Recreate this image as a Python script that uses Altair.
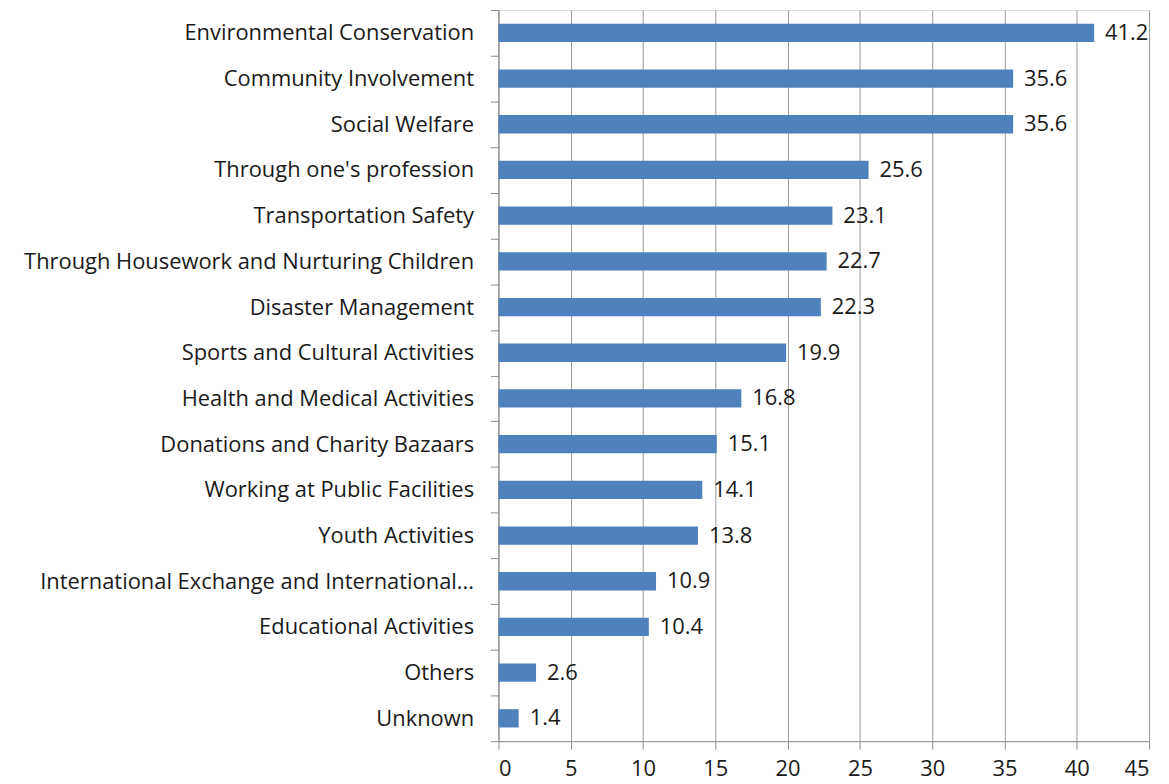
import altair as alt
import pandas as pd

categories = [
    "Environmental Conservation",
    "Community Involvement",
    "Social Welfare",
    "Through one's profession",
    "Transportation Safety",
    "Through Housework and Nurturing Children",
    "Disaster Management",
    "Sports and Cultural Activities",
    "Health and Medical Activities",
    "Donations and Charity Bazaars",
    "Working at Public Facilities",
    "Youth Activities",
    "International Exchange and International...",
    "Educational Activities",
    "Others",
    "Unknown",
]
values = [41.2, 35.6, 35.6, 25.6, 23.1, 22.7, 22.3, 19.9, 16.8, 15.1, 14.1, 13.8, 10.9, 10.4, 2.6, 1.4]

df = pd.DataFrame({"category": categories, "value": values})

FONT = "Open Sans"
TEXT = "#1a1a1a"
AXIS = "#8c8c8c"

y = alt.Y(
    "category:N",
    sort=categories,
    title=None,
    scale=alt.Scale(paddingInner=0, paddingOuter=0),
    axis=alt.Axis(
        tickBand="extent",
        tickSize=8,
        tickColor=AXIS,
        domainColor=AXIS,
        labelFont=FONT,
        labelFontSize=22,
        labelColor=TEXT,
        labelPadding=17,
        labelLimit=600,
        grid=False,
    ),
)
x = alt.X(
    "value:Q",
    title=None,
    scale=alt.Scale(domain=[0, 45], nice=False),
    axis=alt.Axis(
        values=list(range(0, 46, 5)),
        tickSize=8,
        tickColor=AXIS,
        domainColor=AXIS,
        gridColor="#9a9a9a",
        labelFont=FONT,
        labelFontSize=22,
        labelColor=TEXT,
        labelPadding=9,
    ),
)

bars = alt.Chart(df).mark_bar(color="#4F81BD", height={"band": 0.4}).encode(x=x, y=y)
labels = alt.Chart(df).mark_text(
    align="left", dx=11, font=FONT, fontSize=22, color=TEXT
).encode(x=x, y=y, text=alt.Text("value:Q", format=".1f"))

chart = (
    (bars + labels)
    .properties(
        width=654,
        height=735,
        autosize=alt.AutoSizeParams(type="none"),
        padding={"left": 493, "top": 0, "right": 12, "bottom": 38},
    )
    .configure_view(stroke=None)
    .configure(background="white")
)

chart.save("out.html", embed_options={"renderer": "svg", "actions": False})
